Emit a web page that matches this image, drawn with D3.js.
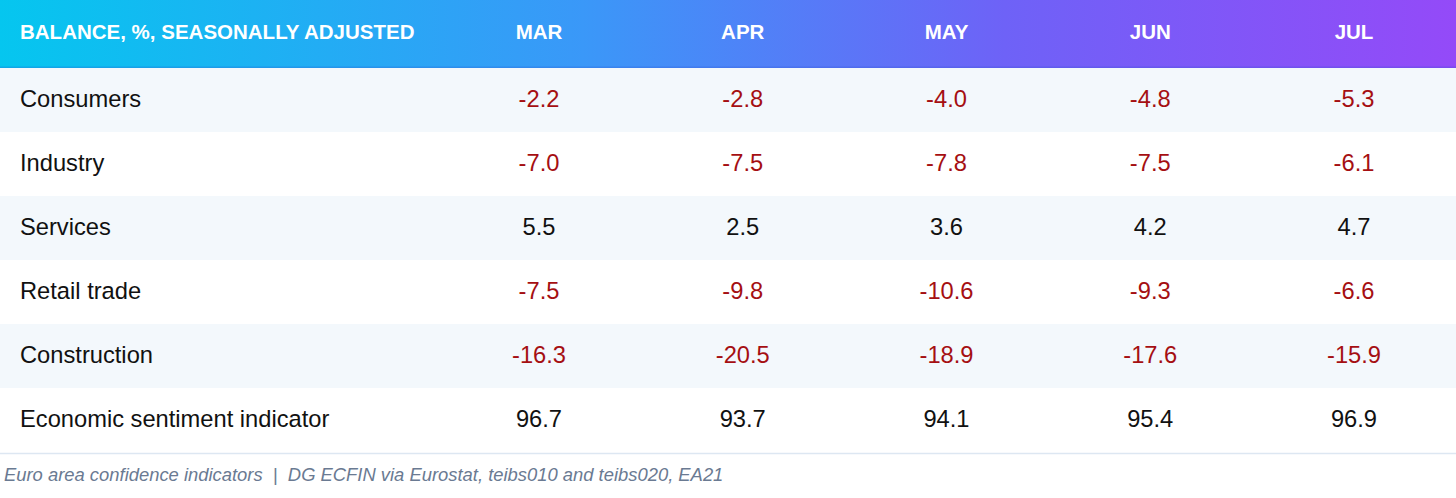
<!DOCTYPE html>
<html>
<head>
<meta charset="utf-8">
<title>Euro area confidence indicators</title>
<style>
  body { margin: 0; background: #fff; }
  svg { display: block; font-family: "Liberation Sans", Arial, sans-serif; }
</style>
</head>
<body>
<svg id="chart" width="1456" height="498"></svg>
<script src="https://d3js.org/d3.v7.min.js"></script>
<script>

const months = ["MAR", "APR", "MAY", "JUN", "JUL"];
const indicators = ["Consumers", "Industry", "Services", "Retail trade", "Construction", "Economic sentiment indicator"];
const consumers = [-2.2, -2.8, -4.0, -4.8, -5.3];
const industry = [-7.0, -7.5, -7.8, -7.5, -6.1];
const services = [5.5, 2.5, 3.6, 4.2, 4.7];
const retail = [-7.5, -9.8, -10.6, -9.3, -6.6];
const construction = [-16.3, -20.5, -18.9, -17.6, -15.9];
const esi = [96.7, 93.7, 94.1, 95.4, 96.9];
const headerTitle = "BALANCE, %, SEASONALLY ADJUSTED";
const footNote = "Euro area confidence indicators  |  DG ECFIN via Eurostat, teibs010 and teibs020, EA21";

const values = [consumers, industry, services, retail, construction, esi];

const W = 1456, headerH = 68;
const svg = d3.select("#chart");

// header gradient, cyan -> blue -> purple
const grad = svg.append("defs").append("linearGradient")
    .attr("id", "hdr").attr("x1", "0%").attr("x2", "100%");
[["0%", "#05c6ef"], ["40%", "#3a98f8"], ["69%", "#6e62f7"], ["100%", "#944af8"]]
    .forEach(s => grad.append("stop").attr("offset", s[0]).attr("stop-color", s[1]));

let x = d3.scalePoint().domain(months).range([539, 1354]);
let y = d3.scaleBand().domain(indicators).range([headerH, 452]);

svg.append("rect")
    .attr("x", 0).attr("y", 0)
    .attr("width", W).attr("height", headerH)
    .attr("fill", "url(#hdr)");

svg.append("rect")
    .attr("x", 0).attr("y", headerH - 1.5)
    .attr("width", W).attr("height", 1.5)
    .attr("fill", "#2a4fd0").attr("opacity", 0.25);

svg.append("text")
    .attr("x", 20).attr("y", 39)
    .attr("fill", "#fff")
    .attr("font-size", 20.5).attr("font-weight", "bold")
    .text(headerTitle);

svg.selectAll("text.month")
    .data(months)
    .enter().append("text")
    .attr("class", "month")
    .attr("x", d => x(d)).attr("y", 39)
    .attr("text-anchor", "middle")
    .attr("fill", "#fff")
    .attr("font-size", 20.5).attr("font-weight", "bold")
    .text(d => d);

// rows
let rows = svg.selectAll("g.row")
    .data(indicators)
    .enter().append("g")
    .attr("class", "row")
    .attr("transform", d => "translate(0," + y(d) + ")");

rows.append("rect")
    .attr("width", W).attr("height", y.bandwidth())
    .attr("fill", (d, i) => i % 2 === 0 ? "#f3f8fc" : "#ffffff");

rows.append("text")
    .attr("x", 20).attr("y", y.bandwidth() / 2 + 7)
    .attr("font-size", 23.7).attr("fill", "#111")
    .text(d => d);

rows.selectAll("text.val")
    .data((d, i) => values[i].map((v, j) => ({v: v, m: months[j]})))
    .enter().append("text")
    .attr("class", "val")
    .attr("x", d => x(d.m)).attr("y", y.bandwidth() / 2 + 7)
    .attr("text-anchor", "middle")
    .attr("font-size", 23.7)
    .attr("fill", d => d.v < 0 ? "#a50f12" : "#111")
    .text(d => d.v.toFixed(1));

svg.append("line")
    .attr("x1", 0).attr("x2", W)
    .attr("y1", 453.5).attr("y2", 453.5)
    .attr("stroke", "#dde7f2").attr("stroke-width", 1.5);

svg.append("text")
    .attr("x", 4).attr("y", 481)
    .attr("font-size", 18.4).attr("font-style", "italic")
    .attr("fill", "#6a7a92")
    .attr("xml:space", "preserve")
    .style("white-space", "pre")
    .text(footNote);

</script>
</body>
</html>
